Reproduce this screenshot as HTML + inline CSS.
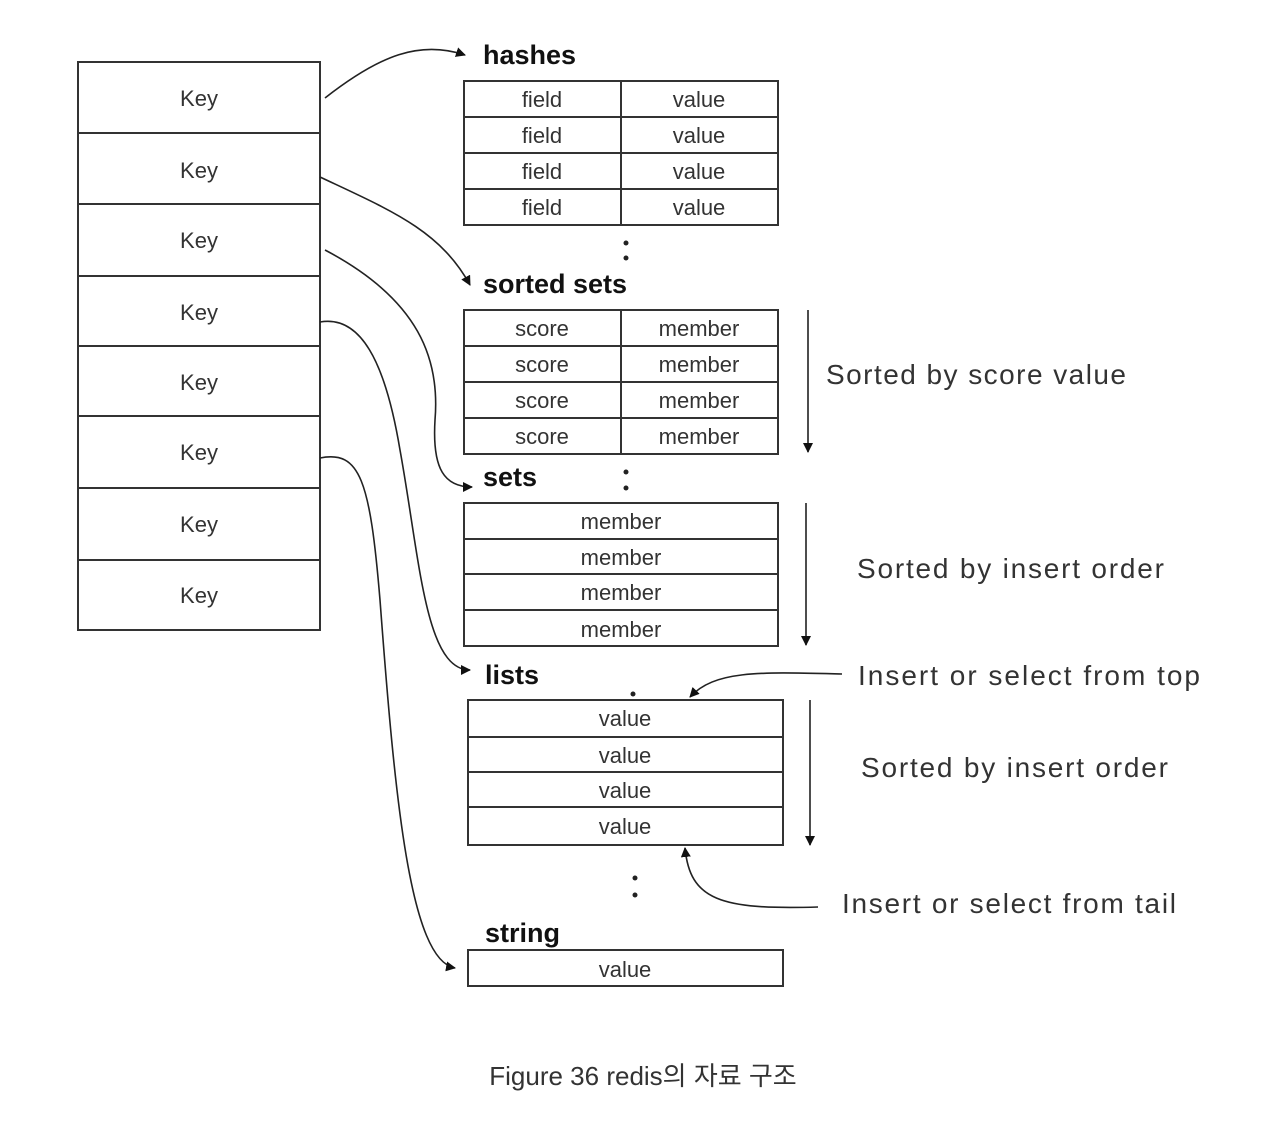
<!DOCTYPE html>
<html><head><meta charset="utf-8"><style>
html,body{margin:0;padding:0;background:#fff;}
svg{display:block;}
text{font-family:"Liberation Sans","Noto Sans CJK KR",sans-serif;}
.c{font-size:22px;fill:#333;text-anchor:middle;}
.b{font-size:27px;font-weight:bold;fill:#111;}
.n{font-size:28px;fill:#333;}
</style></head><body>
<svg width="1266" height="1126" viewBox="0 0 1266 1126" xmlns="http://www.w3.org/2000/svg">
<defs><marker id="a" markerWidth="10" markerHeight="10" refX="9" refY="5" orient="auto" markerUnits="userSpaceOnUse" viewBox="0 0 10 10"><path d="M0,0 L10,5 L0,10 z" fill="#111"/></marker></defs>
<g fill="none" stroke="#333" stroke-width="2">
<rect x="78" y="62" width="242" height="568"/>
<line x1="78" y1="133" x2="320" y2="133"/><line x1="78" y1="204" x2="320" y2="204"/><line x1="78" y1="276" x2="320" y2="276"/><line x1="78" y1="346" x2="320" y2="346"/><line x1="78" y1="416" x2="320" y2="416"/><line x1="78" y1="488" x2="320" y2="488"/><line x1="78" y1="560" x2="320" y2="560"/>
<rect x="464" y="81" width="314" height="144"/>
<line x1="464" y1="117" x2="778" y2="117"/><line x1="464" y1="153" x2="778" y2="153"/><line x1="464" y1="189" x2="778" y2="189"/><line x1="621" y1="81" x2="621" y2="225"/>
<rect x="464" y="310" width="314" height="144"/>
<line x1="464" y1="346" x2="778" y2="346"/><line x1="464" y1="382" x2="778" y2="382"/><line x1="464" y1="418" x2="778" y2="418"/><line x1="621" y1="310" x2="621" y2="454"/>
<rect x="464" y="503" width="314" height="143"/>
<line x1="464" y1="539" x2="778" y2="539"/><line x1="464" y1="574" x2="778" y2="574"/><line x1="464" y1="610" x2="778" y2="610"/>
<rect x="468" y="700" width="315" height="145"/>
<line x1="468" y1="737" x2="783" y2="737"/><line x1="468" y1="772" x2="783" y2="772"/><line x1="468" y1="807" x2="783" y2="807"/>
<rect x="468" y="950" width="315" height="36"/>
</g>
<g fill="none" stroke="#222" stroke-width="1.6" marker-end="url(#a)">
<path d="M325,98 C380,55 420,40 465,55"/>
<path d="M320,177 C390,210 440,230 470,285"/>
<path d="M325,250 C420,300 440,360 435,420 C432,470 445,487 472,487"/>
<path d="M320,322 C360,315 385,360 400,450 C420,560 425,670 470,670"/>
<path d="M320,458 C360,450 370,480 380,600 C395,800 410,960 455,968"/>
<path d="M808,310 L808,452"/>
<path d="M806,503 L806,645"/>
<path d="M810,700 L810,845"/>
<path d="M842,674 C760,672 715,670 690,697"/>
<path d="M818,907 C720,910 690,900 685,848"/>
</g>
<g fill="#222">
<circle cx="626" cy="243" r="2.5"/><circle cx="626" cy="258" r="2.5"/>
<circle cx="626" cy="472" r="2.5"/><circle cx="626" cy="488" r="2.5"/>
<circle cx="633" cy="694" r="2.5"/>
<circle cx="635" cy="878" r="2.5"/><circle cx="635" cy="895" r="2.5"/>
</g>
<g class="c">
<text x="199" y="106">Key</text><text x="199" y="178">Key</text><text x="199" y="248">Key</text><text x="199" y="320">Key</text><text x="199" y="390">Key</text><text x="199" y="460">Key</text><text x="199" y="532">Key</text><text x="199" y="603">Key</text>
<text x="542" y="107">field</text><text x="699" y="107">value</text>
<text x="542" y="143">field</text><text x="699" y="143">value</text>
<text x="542" y="179">field</text><text x="699" y="179">value</text>
<text x="542" y="215">field</text><text x="699" y="215">value</text>
<text x="542" y="336">score</text><text x="699" y="336">member</text>
<text x="542" y="372">score</text><text x="699" y="372">member</text>
<text x="542" y="408">score</text><text x="699" y="408">member</text>
<text x="542" y="444">score</text><text x="699" y="444">member</text>
<text x="621" y="529">member</text><text x="621" y="565">member</text><text x="621" y="600">member</text><text x="621" y="637">member</text>
<text x="625" y="726">value</text><text x="625" y="763">value</text><text x="625" y="798">value</text><text x="625" y="834">value</text>
<text x="625" y="977">value</text>
</g>
<g class="b">
<text x="483" y="64">hashes</text>
<text x="483" y="293">sorted  sets</text>
<text x="483" y="486">sets</text>
<text x="485" y="684">lists</text>
<text x="485" y="942">string</text>
</g>
<g class="n">
<text x="826" y="384" textLength="300">Sorted by score value</text>
<text x="857" y="578" textLength="307">Sorted by insert order</text>
<text x="858" y="685" textLength="342">Insert or select from top</text>
<text x="861" y="777" textLength="307">Sorted by insert order</text>
<text x="842" y="913" textLength="334">Insert or select from tail</text>
</g>
<text x="643" y="1085" text-anchor="middle" style="font-size:26px;fill:#333">Figure 36 redis의 자료 구조</text>
</svg>
</body></html>
